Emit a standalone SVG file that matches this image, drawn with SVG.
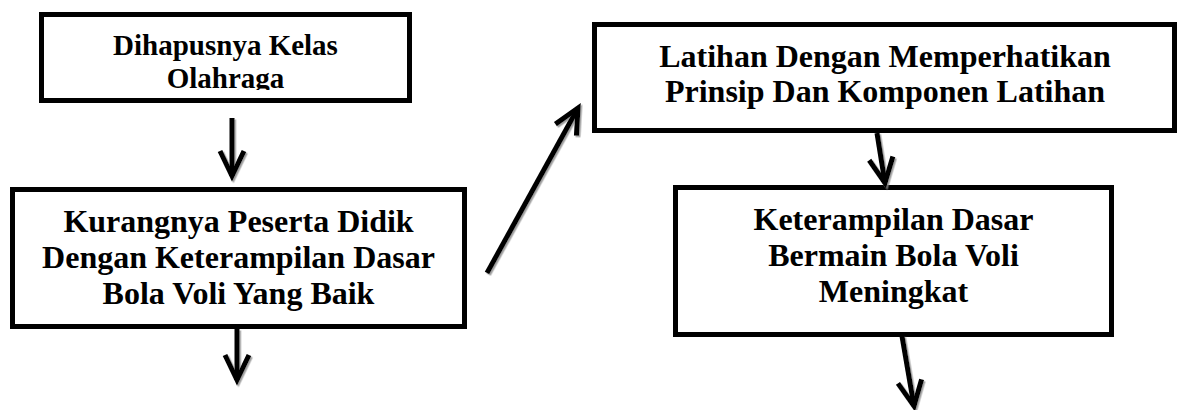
<svg xmlns="http://www.w3.org/2000/svg" width="1181" height="410" viewBox="0 0 1181 410">
<style>
.box{fill:#fff;stroke:#000;stroke-width:5}
.t{font-family:"Liberation Serif","Times New Roman",serif;font-weight:bold;font-size:32px;text-anchor:middle;fill:#000}
.t1{font-size:29px}
.c{fill:none;stroke:#000;stroke-width:5}
</style>
<defs>
<marker id="ah" markerUnits="userSpaceOnUse" markerWidth="40" markerHeight="40" viewBox="-30 -20 40 40" refX="0" refY="0" orient="auto">
<path d="M-25,-12 L0,0 L-25,12" fill="none" stroke="#000" stroke-width="5" stroke-linejoin="miter" stroke-miterlimit="4"/>
</marker>
<filter id="sh" x="-20%" y="-20%" width="140%" height="140%">
<feDropShadow dx="1.5" dy="1.5" stdDeviation="0.6" flood-color="#888" flood-opacity="0.8"/>
</filter>
<clipPath id="cp1"><rect x="44" y="17" width="363" height="73"/></clipPath>
</defs>
<rect width="1181" height="410" fill="#fff"/>
<g id="n1">
<rect class="box" x="41.5" y="14.5" width="368" height="86"/>
<g clip-path="url(#cp1)">
<text class="t t1" x="225.5" y="55">Dihapusnya Kelas</text>
<text class="t t1" x="225.5" y="88">Olahraga</text>
</g>
</g>
<g id="n2">
<rect class="box" x="12.5" y="189.5" width="452" height="137"/>
<text class="t" x="238.5" y="232">Kurangnya Peserta Didik</text>
<text class="t" x="238.5" y="268">Dengan Keterampilan Dasar</text>
<text class="t" x="238.5" y="304">Bola Voli Yang Baik</text>
</g>
<g id="n3">
<rect class="box" x="594.5" y="24.5" width="580" height="106"/>
<text class="t" x="885" y="67">Latihan Dengan Memperhatikan</text>
<text class="t" x="885" y="102">Prinsip Dan Komponen Latihan</text>
</g>
<g id="n4">
<rect class="box" x="675.5" y="187.5" width="436" height="147"/>
<text class="t" x="893.5" y="230">Keterampilan Dasar</text>
<text class="t" x="893.5" y="266">Bermain Bola Voli</text>
<text class="t" x="893.5" y="302">Meningkat</text>
</g>
<g id="connectors" filter="url(#sh)">
<path class="c" d="M232,118 L232,176" marker-end="url(#ah)"/>
<path class="c" d="M237,329 L237,380" marker-end="url(#ah)"/>
<path class="c" d="M487,273 L578,108" marker-end="url(#ah)"/>
<path class="c" d="M877,133 L885,183" marker-end="url(#ah)"/>
<path class="c" d="M902,336 L914,406" marker-end="url(#ah)"/>
</g>
</svg>
